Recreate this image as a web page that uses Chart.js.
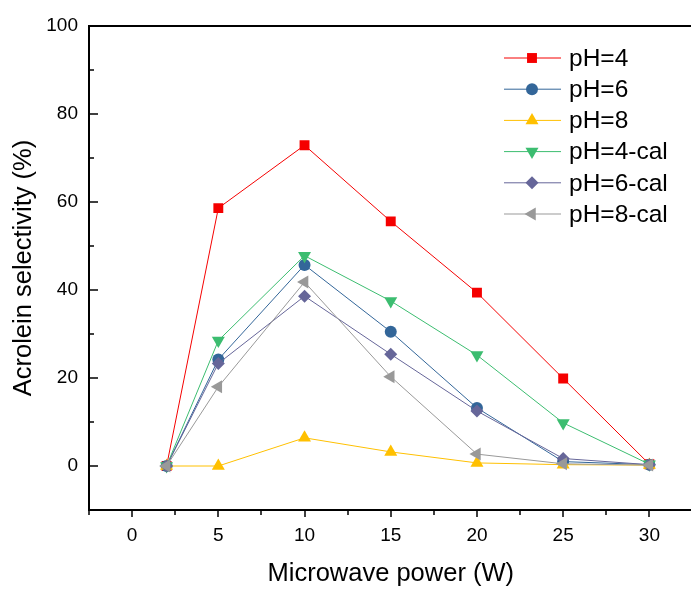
<!DOCTYPE html>
<html>
<head>
<meta charset="utf-8">
<script src="https://cdn.jsdelivr.net/npm/chart.js@4.4.0/dist/chart.umd.min.js"></script>
<style>
html, body { margin: 0; padding: 0; overflow: hidden; background: #fff; }
.wrap { position: relative; width: 700px; height: 590px; }
</style>
</head>
<body>
<div class="wrap"><canvas id="myChart"></canvas></div>
<script>
const power = [2, 5, 10, 15, 20, 25, 30];

const ph4 = [0, 58.6, 72.9, 55.6, 39.4, 19.9, 0.4];
const ph6 = [0, 24.2, 45.7, 30.5, 13.2, 1.0, 0.3];
const ph8 = [0, 0, 6.4, 3.2, 0.7, 0.3, 0.2];
const ph4cal = [0, 28.5, 47.8, 37.5, 25.2, 9.8, 0.4];
const ph6cal = [0, 23.3, 38.6, 25.4, 12.5, 1.7, 0.3];
const ph8cal = [0, 18.0, 41.8, 20.3, 2.7, 0.5, 0.2];

const xTicks = [0, 5, 10, 15, 20, 25, 30];
const yTicks = [0, 20, 40, 60, 80, 100];

const font = "Arial, 'Liberation Sans', sans-serif";

function pts(vals) {
    return vals.map((v, i) => ({x: power[i], y: v}));
}

function series(label, vals, color, style, rotation, radius, order) {
    return {
        label: label,
        data: pts(vals),
        borderColor: color,
        backgroundColor: color,
        borderWidth: 1,
        pointStyle: style,
        rotation: rotation,
        pointRadius: radius,
        pointBorderWidth: 0,
        order: order,
    };
}

const data = {
    datasets: [
        series('pH=4', ph4, '#f50000', 'rect', 0, 7, 5),
        series('pH=6', ph6, '#336699', 'circle', 0, 6, 4),
        series('pH=8', ph8, '#ffc000', 'triangle', 0, 7.5, 3),
        series('pH=4-cal', ph4cal, '#3cbd70', 'triangle', 180, 7.5, 2),
        series('pH=6-cal', ph6cal, '#666699', 'rectRot', 0, 6.5, 1),
        series('pH=8-cal', ph8cal, '#999999', 'triangle', 270, 7.5, 0),
    ]
};

// axis frame, inward/outward ticks and the legend box
const frame = {
    id: 'frame',
    afterDraw(chart) {
        const ctx = chart.ctx;
        const a = chart.chartArea;
        const x = chart.scales.x;
        const y = chart.scales.y;
        ctx.save();
        ctx.strokeStyle = '#000';
        ctx.lineWidth = 2;
        ctx.beginPath();
        ctx.moveTo(a.left, a.top - 1);
        ctx.lineTo(a.left, a.bottom + 1);
        ctx.moveTo(a.left - 1, a.bottom);
        ctx.lineTo(a.right + 1, a.bottom);
        ctx.moveTo(a.left - 1, a.top);
        ctx.lineTo(a.right + 1, a.top);
        ctx.moveTo(a.right, a.top);
        ctx.lineTo(a.right, a.bottom);
        ctx.stroke();

        ctx.lineWidth = 1.5;
        ctx.beginPath();
        yTicks.forEach(v => {
            const p = Math.round(y.getPixelForValue(v));
            ctx.moveTo(a.left, p);
            ctx.lineTo(a.left + 9, p);
            const m = Math.round(y.getPixelForValue(v - 10));
            ctx.moveTo(a.left, m);
            ctx.lineTo(a.left + 5, m);
        });
        xTicks.forEach(v => {
            const p = Math.round(x.getPixelForValue(v));
            ctx.moveTo(p, a.bottom);
            ctx.lineTo(p, a.bottom + 7);
            const m = Math.round(x.getPixelForValue(v - 2.5));
            ctx.moveTo(m, a.bottom);
            ctx.lineTo(m, a.bottom + 5);
        });
        const last = Math.round(x.getPixelForValue(32.5));
        ctx.moveTo(last, a.bottom);
        ctx.lineTo(last, a.bottom + 5);
        ctx.stroke();

        // legend
        ctx.font = '24.5px ' + font;
        ctx.textBaseline = 'middle';
        ctx.textAlign = 'left';
        chart.data.datasets.forEach((ds, i) => {
            const ly = 58 + i * 31.2;
            ctx.strokeStyle = ds.borderColor;
            ctx.lineWidth = 1;
            ctx.beginPath();
            ctx.moveTo(504, ly);
            ctx.lineTo(561, ly);
            ctx.stroke();
            ctx.fillStyle = ds.backgroundColor;
            Chart.helpers.drawPoint(ctx, {
                pointStyle: ds.pointStyle,
                rotation: ds.rotation,
                radius: ds.pointRadius,
                borderWidth: 0,
            }, 532, ly);
            ctx.fillStyle = '#000';
            ctx.fillText(ds.label, 569, ly + 1);
        });
        ctx.restore();
    }
};

const config = {
    type: 'line',
    data: data,
    options: {
        responsive: true,
        maintainAspectRatio: false,
        animation: false,
        layout: {
            padding: {top: 26, right: 5, left: 0, bottom: 0}
        },
        scales: {
            x: {
                type: 'linear',
                min: -2.5,
                max: 32.5,
                afterBuildTicks: (scale) => {
                    scale.ticks = xTicks.map(v => ({value: v}));
                },
                afterFit: (scale) => { scale.height = 80; },
                grid: {display: false, drawTicks: false},
                border: {display: false},
                ticks: {
                    padding: 14,
                    color: '#000',
                    maxRotation: 0,
                    font: {family: font, size: 19}
                },
                title: {
                    display: true,
                    text: 'Microwave power (W)',
                    color: '#000',
                    padding: {top: 0, bottom: 1},
                    font: {family: font, size: 25.5}
                }
            },
            y: {
                min: -10,
                max: 100,
                afterBuildTicks: (scale) => {
                    scale.ticks = yTicks.map(v => ({value: v}));
                },
                afterFit: (scale) => { scale.width = 89; },
                grid: {display: false, drawTicks: false},
                border: {display: false},
                ticks: {
                    padding: 11,
                    color: '#000',
                    font: {family: font, size: 19}
                },
                title: {
                    display: true,
                    text: 'Acrolein selectivity (%)',
                    color: '#000',
                    padding: {top: 9, bottom: 0},
                    font: {family: font, size: 25.5}
                }
            }
        },
        plugins: {
            legend: {display: false},
            tooltip: {enabled: false}
        }
    },
    plugins: [frame]
};

const myChart = new Chart(
    document.getElementById('myChart'),
    config
);
</script>
</body>
</html>
